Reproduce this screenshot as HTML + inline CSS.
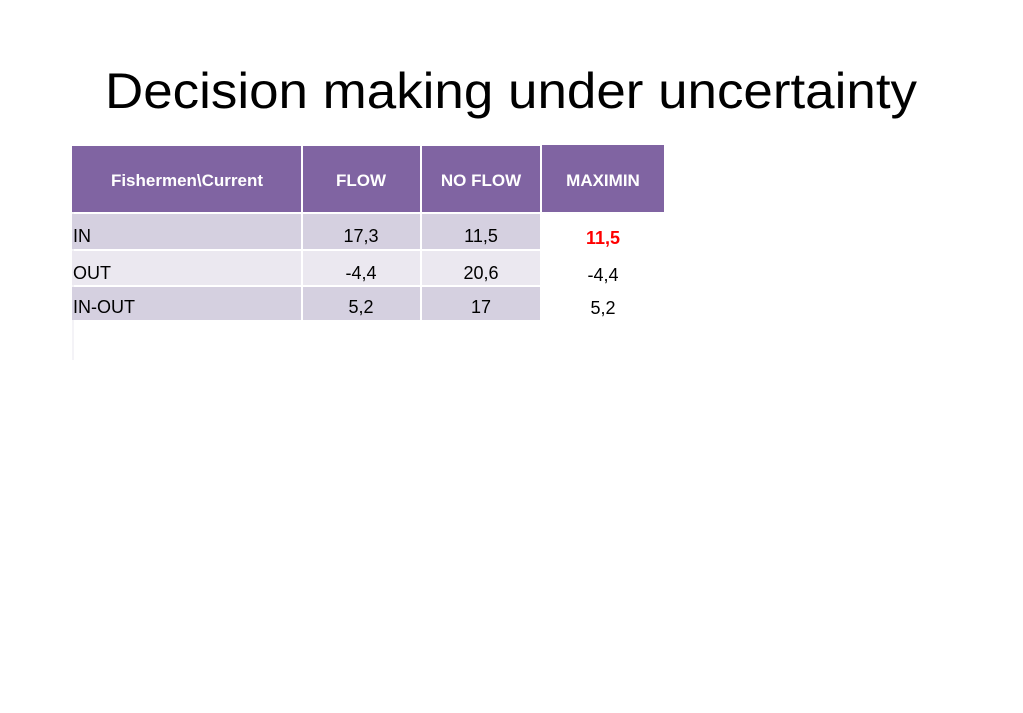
<!DOCTYPE html>
<html><head><meta charset="utf-8"><style>
body{margin:0;width:1023px;height:708px;background:#fff;overflow:hidden;font-family:"Liberation Sans",sans-serif}
</style></head><body>
<svg width="1023" height="708">
<text x="511" y="108" text-anchor="middle" font-size="50" textLength="812" lengthAdjust="spacingAndGlyphs" fill="#000">Decision making under uncertainty</text>
<g>
<rect x="72" y="212" width="2" height="148" fill="#f4f3f7"/>
<rect x="72" y="146" width="229" height="66" fill="#8064a2"/>
<rect x="303" y="146" width="117" height="66" fill="#8064a2"/>
<rect x="422" y="146" width="118" height="66" fill="#8064a2"/>
<rect x="542" y="145" width="122" height="67" fill="#8064a2"/>
<g font-size="17" font-weight="bold" fill="#fff" text-anchor="middle">
<text x="187" y="186">Fishermen\Current</text>
<text x="361" y="186">FLOW</text>
<text x="481" y="186">NO FLOW</text>
<text x="603" y="186">MAXIMIN</text>
</g>
<g>
<rect x="72" y="214" width="229" height="35" fill="#d5d0e0"/><rect x="303" y="214" width="117" height="35" fill="#d5d0e0"/><rect x="422" y="214" width="118" height="35" fill="#d5d0e0"/>
</g>
<g>
<rect x="72" y="251" width="229" height="34" fill="#ebe8f0"/><rect x="303" y="251" width="117" height="34" fill="#ebe8f0"/><rect x="422" y="251" width="118" height="34" fill="#ebe8f0"/>
</g>
<g>
<rect x="72" y="287" width="229" height="33" fill="#d5d0e0"/><rect x="303" y="287" width="117" height="33" fill="#d5d0e0"/><rect x="422" y="287" width="118" height="33" fill="#d5d0e0"/>
</g>
<g font-size="18" fill="#000">
<text x="73" y="242">IN</text>
<text x="73" y="279">OUT</text>
<text x="73" y="313">IN-OUT</text>
<g text-anchor="middle">
<text x="361" y="242">17,3</text>
<text x="481" y="242">11,5</text>
<text x="361" y="279">-4,4</text>
<text x="481" y="279">20,6</text>
<text x="361" y="313">5,2</text>
<text x="481" y="313">17</text>
<text x="603" y="244" font-weight="bold" fill="#ff0000">11,5</text>
<text x="603" y="281">-4,4</text>
<text x="603" y="314">5,2</text>
</g>
</g>
</g>
</svg>
</body></html>
